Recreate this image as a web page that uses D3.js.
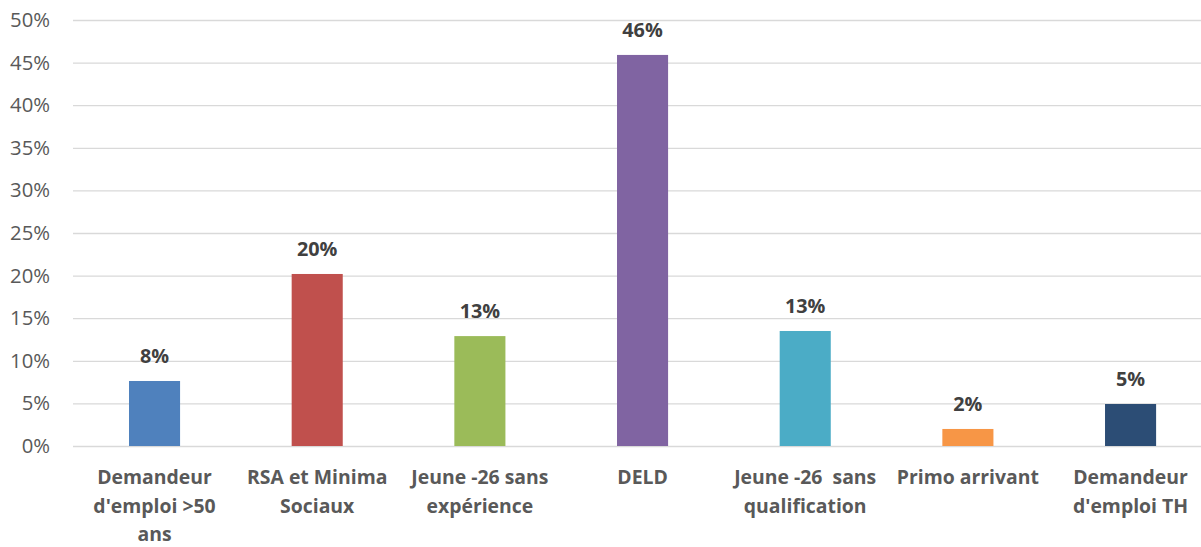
<!DOCTYPE html>
<html><head><meta charset="utf-8">
<script src="https://cdn.jsdelivr.net/npm/d3@7"></script>
<style>body{margin:0;background:#fff}svg{display:block}</style>
</head><body>
<svg id="c" width="1201" height="547"></svg>
<script>
const categories = ["Demandeur\nd'emploi >50\nans", "RSA et Minima\nSociaux", "Jeune -26 sans\nexpérience", "DELD", "Jeune -26  sans\nqualification", "Primo arrivant", "Demandeur\nd'emploi TH"];
const values = [0.0763, 0.2019, 0.129, 0.459, 0.135, 0.020, 0.0493];
const labels = ["8%", "20%", "13%", "46%", "13%", "2%", "5%"];
const colors = ["#4F81BD", "#C0504D", "#9BBB59", "#8064A2", "#4BACC6", "#F79646", "#2C4D75"];
const yTicks = [0, 0.05, 0.10, 0.15, 0.20, 0.25, 0.30, 0.35, 0.40, 0.45, 0.50];

const svg = d3.select("#c");
const font = "'Open Sans', sans-serif";
const x = d3.scaleBand().domain(d3.range(categories.length)).range([73.2, 1211.9]).paddingInner(0.686).paddingOuter(0.343);
const y = d3.scaleLinear().domain([0, 0.5]).range([446, 20]);

const yAxis = svg.append("g").attr("transform", "translate(73,0)")
  .call(d3.axisLeft(y).tickValues(yTicks).tickSize(-1140).tickFormat(d3.format(".0%")).tickPadding(23));
yAxis.select(".domain").remove();
yAxis.selectAll(".tick line").attr("stroke", "#D9D9D9").attr("stroke-width", 1.3);
yAxis.selectAll(".tick text").attr("fill", "#595959").attr("font-family", font).attr("font-size", 20.3);

svg.append("g").selectAll("rect").data(values).join("rect")
  .attr("x", (d, i) => x(i)).attr("width", x.bandwidth())
  .attr("y", d => y(d)).attr("height", d => y(0) - y(d))
  .attr("fill", (d, i) => colors[i]);

svg.append("g").selectAll("text").data(values).join("text")
  .attr("x", (d, i) => x(i) + x.bandwidth() / 2).attr("y", d => y(d) - 18)
  .attr("text-anchor", "middle").attr("font-family", font).attr("font-weight", "bold")
  .attr("font-size", 19.8).attr("fill", "#404040").text((d, i) => labels[i]);

const xg = svg.append("g");
categories.forEach((c, i) => {
  const t = xg.append("text").attr("text-anchor", "middle").attr("font-family", font)
    .attr("font-weight", "bold").attr("font-size", 19.4).attr("fill", "#595959")
    .attr("x", x(i) + x.bandwidth() / 2).attr("y", 484).attr("xml:space", "preserve");
  c.split("\n").forEach((line, k) => {
    t.append("tspan").attr("x", x(i) + x.bandwidth() / 2).attr("y", 484 + k * 28.5).text(line);
  });
});
</script>
</body></html>
